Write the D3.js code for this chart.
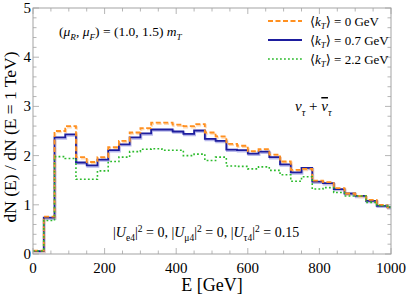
<!DOCTYPE html>
<html><head><meta charset="utf-8">
<script src="https://cdn.jsdelivr.net/npm/d3@7"></script>
<style>body{margin:0;background:#fff} svg{display:block}</style>
</head><body>
<svg id="c" width="407" height="300"></svg>
<script>
// ---- data ----
const binStart = [0,30,60,90,120,150,180,210,240,270,300,330,360,390,420,450,480,510,540,570,600,630,660,690,720,750,780,810,840,870,900,930,960,990];
const binEnd = 1000;
const kt0  = [0.07,0.76,2.50,2.60,1.97,1.87,1.97,2.17,2.30,2.47,2.56,2.67,2.67,2.63,2.60,2.64,2.47,2.39,2.24,2.20,2.09,2.13,2.02,1.88,1.71,1.73,1.49,1.46,1.34,1.23,1.18,1.10,1.00,0.95];
const kt07 = [0.06,0.74,2.37,2.43,1.86,1.80,1.92,2.11,2.23,2.37,2.45,2.53,2.53,2.49,2.44,2.51,2.34,2.30,2.12,2.11,2.04,2.08,1.97,1.82,1.66,1.75,1.47,1.44,1.32,1.23,1.18,1.08,0.98,0.95];
const kt22 = [0.06,0.68,1.98,1.94,1.52,1.52,1.69,1.88,1.97,2.08,2.13,2.14,2.11,2.11,2.00,2.03,1.90,1.97,1.79,1.78,1.73,1.77,1.70,1.61,1.48,1.57,1.32,1.35,1.25,1.18,1.18,1.05,0.98,0.95];
const xTicks = [0,200,400,600,800,1000];
const xMinor = [50,100,150,250,300,350,450,500,550,650,700,750,850,900,950];
const yTicks = [0,1,2,3,4,5];
const yMinor = [0.2,0.4,0.6,0.8,1.2,1.4,1.6,1.8,2.2,2.4,2.6,2.8,3.2,3.4,3.6,3.8,4.2,4.4,4.6,4.8];
const legendLabels = ["0 GeV","0.7 GeV","2.2 GeV"];

// ---- layout ----
const svg = d3.select("#c");
const L=33, R=391, T=8, B=254;
const x = d3.scaleLinear([0,1000],[L,R]);
const y = d3.scaleLinear([0,5],[B,T]);
const serif = "'Liberation Serif','DejaVu Serif',serif";
const frameCol = "#a3a3a3";

const series = [
  {vals:kt07, color:"#1d1d9e", shadow:"#a6a6e6", dash:null, w:1.8},
  {vals:kt0,  color:"#ff9020", shadow:"#ffd0a0", dash:"5,2.5", w:1.8},
  {vals:kt22, color:"#2dbb2d", shadow:null, dash:"1.8,2.2", w:1.6}
];

svg.append("defs").append("clipPath").attr("id","clip")
  .append("rect").attr("x",L).attr("y",T).attr("width",R-L).attr("height",B-T);

const line = d3.line().x(d=>x(d.e)).y(d=>y(d.v)).curve(d3.curveStepAfter);
function pts(vals){
  return binStart.map((e,i)=>({e, v:vals[i]})).concat([{e:binEnd, v:vals[vals.length-1]}]);
}
const g = svg.append("g").attr("clip-path","url(#clip)");
series.forEach(s=>{
  if(s.shadow){
    g.append("path").attr("d",line(pts(s.vals))).attr("fill","none")
      .attr("stroke",s.shadow).attr("stroke-width",2.2).attr("opacity",0.8)
      .attr("stroke-dasharray",s.dash).attr("transform","translate(0.8,1.2)");
  }
});
series.forEach(s=>{
  g.append("path").attr("d",line(pts(s.vals))).attr("fill","none")
    .attr("stroke",s.color).attr("stroke-width",s.w)
    .attr("stroke-dasharray",s.dash);
});

// ---- frame & ticks ----
svg.append("rect").attr("x",L).attr("y",T).attr("width",R-L).attr("height",B-T)
  .attr("fill","none").attr("stroke",frameCol).attr("stroke-width",1);
const tk = svg.append("g").attr("stroke",frameCol).attr("stroke-width",0.8);
function xt(vals,len){
  vals.forEach(v=>{
    tk.append("line").attr("x1",x(v)).attr("x2",x(v)).attr("y1",B).attr("y2",B-len);
    tk.append("line").attr("x1",x(v)).attr("x2",x(v)).attr("y1",T).attr("y2",T+len);
  });
}
function yt(vals,len){
  vals.forEach(v=>{
    tk.append("line").attr("y1",y(v)).attr("y2",y(v)).attr("x1",L).attr("x2",L+len);
    tk.append("line").attr("y1",y(v)).attr("y2",y(v)).attr("x1",R).attr("x2",R-len);
  });
}
xt(xTicks,6); xt(xMinor,3.5); yt(yTicks,6); yt(yMinor,3.5);

svg.append("g").selectAll("text").data(xTicks).join("text")
  .attr("x",d=>x(d)).attr("y",B+19).attr("text-anchor","middle")
  .attr("font-family",serif).attr("font-size",15).text(d=>d);
svg.append("g").selectAll("text").data(yTicks).join("text")
  .attr("x",L-2).attr("y",d=>y(d)+5).attr("text-anchor","end")
  .attr("font-family",serif).attr("font-size",15).text(d=>d);

// axis titles
svg.append("text").attr("x",212).attr("y",291).attr("text-anchor","middle")
  .attr("font-family",serif).attr("font-size",18).text("E [GeV]");
svg.append("text").attr("transform","translate(16,137) rotate(-90)").attr("text-anchor","middle")
  .attr("font-family",serif).attr("font-size",17.5).text("dN (E) / dN (E = 1 TeV)");

// rich text helper
function rich(xp, yp, size, segs, anchor){
  const t = svg.append("text").attr("x",xp).attr("y",yp).attr("font-family",serif)
    .attr("font-size",size).attr("text-anchor",anchor||"start");
  let shift = 0;
  segs.forEach(s=>{
    const target = s.sub ? 0.3*size : s.sup ? -0.38*size : 0;
    const ts = t.append("tspan").text(s.t);
    if(target!==shift) ts.attr("dy", target-shift);
    shift = target;
    if(s.sub||s.sup) ts.attr("font-size", size*0.68);
    if(s.it) ts.attr("font-style","italic");
    if(s.over) ts.attr("text-decoration","overline");
  });
  return t;
}

rich(59,36,13.5,[{t:"("},{t:"μ",it:1},{t:"R",sub:1,it:1},{t:", "},{t:"μ",it:1},{t:"F",sub:1,it:1},
  {t:") = (1.0, 1.5) "},{t:"m",it:1},{t:"T",sub:1,it:1}]);

// legend
const legY=[21,40,59];
const legOrder=[1,0,2];
legOrder.forEach((si,i)=>{
  const s=series[si];
  svg.append("line").attr("x1",268).attr("x2",302).attr("y1",legY[i]).attr("y2",legY[i])
    .attr("stroke",s.color).attr("stroke-width",s.w).attr("stroke-dasharray",s.dash);
  rich(310,legY[i]+4.5,13,[{t:"⟨"},{t:"k",it:1},{t:"T",sub:1,it:1},{t:"⟩ = "+legendLabels[i]}]);
});

rich(295,111,15,[{t:"ν",it:1},{t:"τ",sub:1,it:1},{t:" + "},{t:"ν",it:1,over:1},{t:"τ",sub:1,it:1}]);

rich(113,237,14,[{t:"|"},{t:"U",it:1},{t:"e4",sub:1},{t:"|"},{t:"2",sup:1},{t:" = 0,  |"},
  {t:"U",it:1},{t:"μ4",sub:1},{t:"|"},{t:"2",sup:1},{t:" = 0,  |"},
  {t:"U",it:1},{t:"τ4",sub:1},{t:"|"},{t:"2",sup:1},{t:" = 0.15"}]);
</script>
</body></html>
